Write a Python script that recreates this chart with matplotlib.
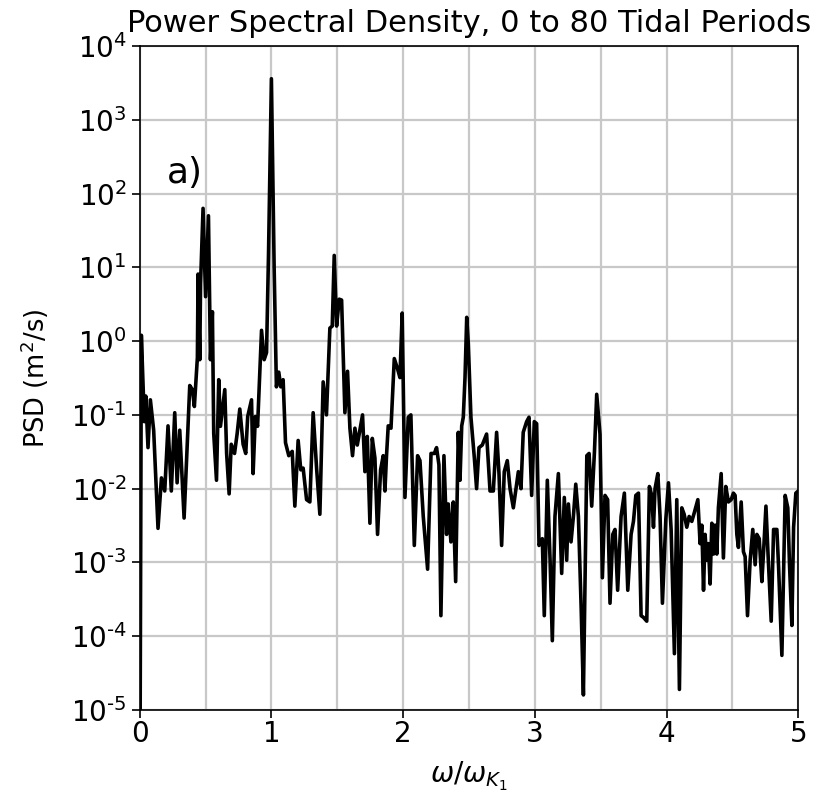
import numpy as np
import matplotlib
matplotlib.use("Agg")
import matplotlib.pyplot as plt
from matplotlib.ticker import MultipleLocator, NullLocator, FixedLocator, FuncFormatter

# === data (frequency in units of K1, PSD in m^2/s) ===
freq = [
    0.0, 0.0125, 0.025, 0.035, 0.046, 0.063, 0.081, 0.106, 0.139, 0.165,
    0.19, 0.215, 0.24, 0.266, 0.284, 0.304, 0.337, 0.38, 0.40, 0.415,
    0.438, 0.443, 0.456, 0.462, 0.481, 0.50, 0.522, 0.537, 0.552, 0.562,
    0.583, 0.60, 0.613, 0.646, 0.66, 0.679, 0.695, 0.72, 0.74, 0.76,
    0.785, 0.805, 0.82, 0.849, 0.861, 0.878, 0.895, 0.925, 0.945, 0.963,
    0.978, 1.0, 1.021, 1.038, 1.056, 1.071, 1.089, 1.107, 1.132, 1.158,
    1.178, 1.203,
    1.223, 1.241, 1.267, 1.292, 1.317, 1.343, 1.368, 1.393, 1.418, 1.444,
    1.462, 1.477, 1.495, 1.515, 1.533, 1.558, 1.578, 1.596, 1.616, 1.634,
    1.652, 1.672, 1.692, 1.710, 1.728, 1.748, 1.766, 1.786, 1.806,
    1.829, 1.849, 1.862, 1.874, 1.887, 1.908, 1.933, 1.958, 1.976, 1.993,
    2.014, 2.039, 2.059, 2.085, 2.110, 2.128, 2.153, 2.186, 2.212, 2.237,
    2.254, 2.272, 2.287, 2.310, 2.330, 2.343, 2.363, 2.381, 2.399, 2.419,
    2.432, 2.445, 2.457, 2.470, 2.483, 2.495, 2.515, 2.541, 2.558, 2.576,
    2.601, 2.634, 2.660, 2.685, 2.710, 2.728, 2.748, 2.768, 2.791, 2.812,
    2.837, 2.855, 2.875, 2.895, 2.912, 2.938, 2.956, 2.976, 2.996, 3.014,
    3.032,
    3.057, 3.072, 3.095, 3.116, 3.133, 3.153, 3.179, 3.204, 3.224, 3.242,
    3.255, 3.275, 3.293, 3.311, 3.331, 3.352, 3.369, 3.395, 3.412, 3.432,
    3.453, 3.470, 3.495, 3.513, 3.533, 3.553, 3.571, 3.592, 3.609, 3.629,
    3.655, 3.680, 3.706, 3.731, 3.749, 3.767, 3.787, 3.807, 3.825, 3.850,
    3.870, 3.888, 3.901, 3.913, 3.934, 3.951, 3.969, 3.995, 4.015, 4.035,
    4.060, 4.078, 4.098, 4.116, 4.134, 4.154, 4.172, 4.192, 4.212,
    4.238, 4.255, 4.268, 4.281, 4.293, 4.306, 4.318, 4.331, 4.344, 4.357,
    4.369, 4.382, 4.394, 4.415, 4.432, 4.450, 4.470, 4.491, 4.508, 4.521,
    4.534, 4.546, 4.567, 4.584, 4.597, 4.615, 4.635, 4.655, 4.673, 4.686,
    4.704, 4.724, 4.737, 4.755, 4.770, 4.795, 4.813, 4.838, 4.851, 4.876,
    4.901, 4.921, 4.934, 4.952, 4.965, 4.982, 5.0,
]
psd = [
    1e-7, 1.2, 0.28, 0.081, 0.18, 0.036, 0.16, 0.062, 0.0029, 0.014,
    0.0093, 0.071, 0.0093, 0.107, 0.012, 0.062, 0.004, 0.25, 0.22, 0.13,
    0.6, 8.1, 0.56, 6.0, 63, 4.0, 50, 0.56, 2.5, 0.056,
    0.013, 0.3, 0.07, 0.22, 0.03, 0.0085, 0.04, 0.03, 0.056, 0.12,
    0.04, 0.03, 0.095, 0.16, 0.016, 0.095, 0.07, 1.4, 0.56, 0.7,
    15, 3600, 9.3, 0.24, 0.38, 0.24, 0.30, 0.042, 0.028, 0.032,
    0.0058, 0.045,
    0.018, 0.019, 0.0071, 0.0066, 0.107, 0.019, 0.0045, 0.28, 0.1, 1.5,
    1.6, 14.5, 1.6, 3.7, 3.6, 0.107, 0.39, 0.066, 0.028, 0.066,
    0.039, 0.062, 0.1, 0.017, 0.051, 0.0034, 0.048, 0.026, 0.0024,
    0.018, 0.028, 0.0093, 0.028, 0.071, 0.066, 0.58, 0.42, 0.32, 2.4,
    0.0076, 0.093, 0.1, 0.0017, 0.028, 0.024, 0.0042, 0.00081, 0.030, 0.030,
    0.036, 0.021, 0.00019, 0.028, 0.0024, 0.0062, 0.0019, 0.0066, 0.00055, 0.058,
    0.013, 0.071, 0.093, 0.32, 2.1, 0.93, 0.093, 0.026, 0.01, 0.036,
    0.039, 0.055, 0.0093, 0.0093, 0.058, 0.016, 0.0017, 0.017, 0.024, 0.01,
    0.0055, 0.0093, 0.017, 0.01, 0.058, 0.081, 0.093, 0.0081, 0.081, 0.076,
    0.0017,
    0.0021, 0.00019, 0.013, 0.00107, 8.7e-5, 0.0042, 0.016, 0.00071, 0.0076, 0.00107,
    0.0062, 0.0019, 0.0042, 0.0115, 0.0042, 0.00024, 1.6e-5, 0.028, 0.030, 0.0058,
    0.032, 0.19, 0.055, 0.00062, 0.0081, 0.0071, 0.00028, 0.0024, 0.0028, 0.00042,
    0.0042, 0.0087, 0.00042, 0.0024, 0.0036, 0.0081, 0.0087, 0.00019, 0.00018, 0.00016,
    0.0107, 0.0081, 0.0030, 0.01, 0.016, 0.0042, 0.00028, 0.0039, 0.012, 0.0028,
    5.8e-5, 0.0071, 1.9e-5, 0.0055, 0.0045, 0.0030, 0.0042, 0.0036, 0.0048,
    0.0071, 0.0018, 0.0032, 0.00042, 0.0024, 0.00107, 0.0018, 0.00051, 0.0034, 0.0013,
    0.0032, 0.0013, 0.0055, 0.016, 0.00115, 0.0107, 0.0066, 0.0071, 0.0087, 0.0081,
    0.0024, 0.0016, 0.0066, 0.0014, 0.0012, 0.00019, 0.00107, 0.0028, 0.00093, 0.0024,
    0.0021, 0.00055, 0.0014, 0.0058, 0.0014, 0.00016, 0.0028, 0.0028, 0.00087, 5.5e-5,
    0.0081, 0.0055, 0.00093, 0.00014, 0.0030, 0.0087, 0.0093,
]

ytick_exponents = [-5, -4, -3, -2, -1, 0, 1, 2, 3, 4]
title = "Power Spectral Density, 0 to 80 Tidal Periods"


def decade_label(v, pos):
    e = int(round(np.log10(v)))
    # short hyphen for negative exponents, like the reference
    s = str(e).replace("-", "\u2010")
    return r"$\mathdefault{10^{%s}}$" % s


# === plot ===
fig = plt.figure(figsize=(8.17, 8.0), dpi=100)
ax = fig.add_axes([0.171, 0.1125, 0.806, 0.83])

ax.semilogy(freq, psd, color="black", linewidth=2.6)

ax.set_xlim(0, 5)
ax.set_ylim(1e-5, 1e4)
ax.xaxis.set_major_locator(MultipleLocator(1))
ax.xaxis.set_minor_locator(MultipleLocator(0.5))
ax.yaxis.set_major_locator(FixedLocator([10.0 ** e for e in ytick_exponents]))
ax.yaxis.set_major_formatter(FuncFormatter(decade_label))
ax.yaxis.set_minor_locator(NullLocator())
ax.tick_params(axis="both", which="major", labelsize=20, length=6, width=1.2)
ax.tick_params(axis="x", which="major", pad=1.5)
ax.tick_params(axis="x", which="minor", length=0)
ax.grid(True, which="both", color="#c8c8c8", linewidth=1.6)
ax.set_axisbelow(True)
for s in ax.spines.values():
    s.set_linewidth(1.2)

ax.set_title(title, fontsize=22, pad=10)
ax.set_xlabel(r"$\omega/\omega_{K_1}$", fontsize=20, labelpad=8)
ax.set_ylabel(r"PSD (m$^2$/s)", fontsize=18.5, labelpad=14)
ax.text(0.21, 140, "a)", fontsize=26)

fig.savefig("out.png", dpi=100)
